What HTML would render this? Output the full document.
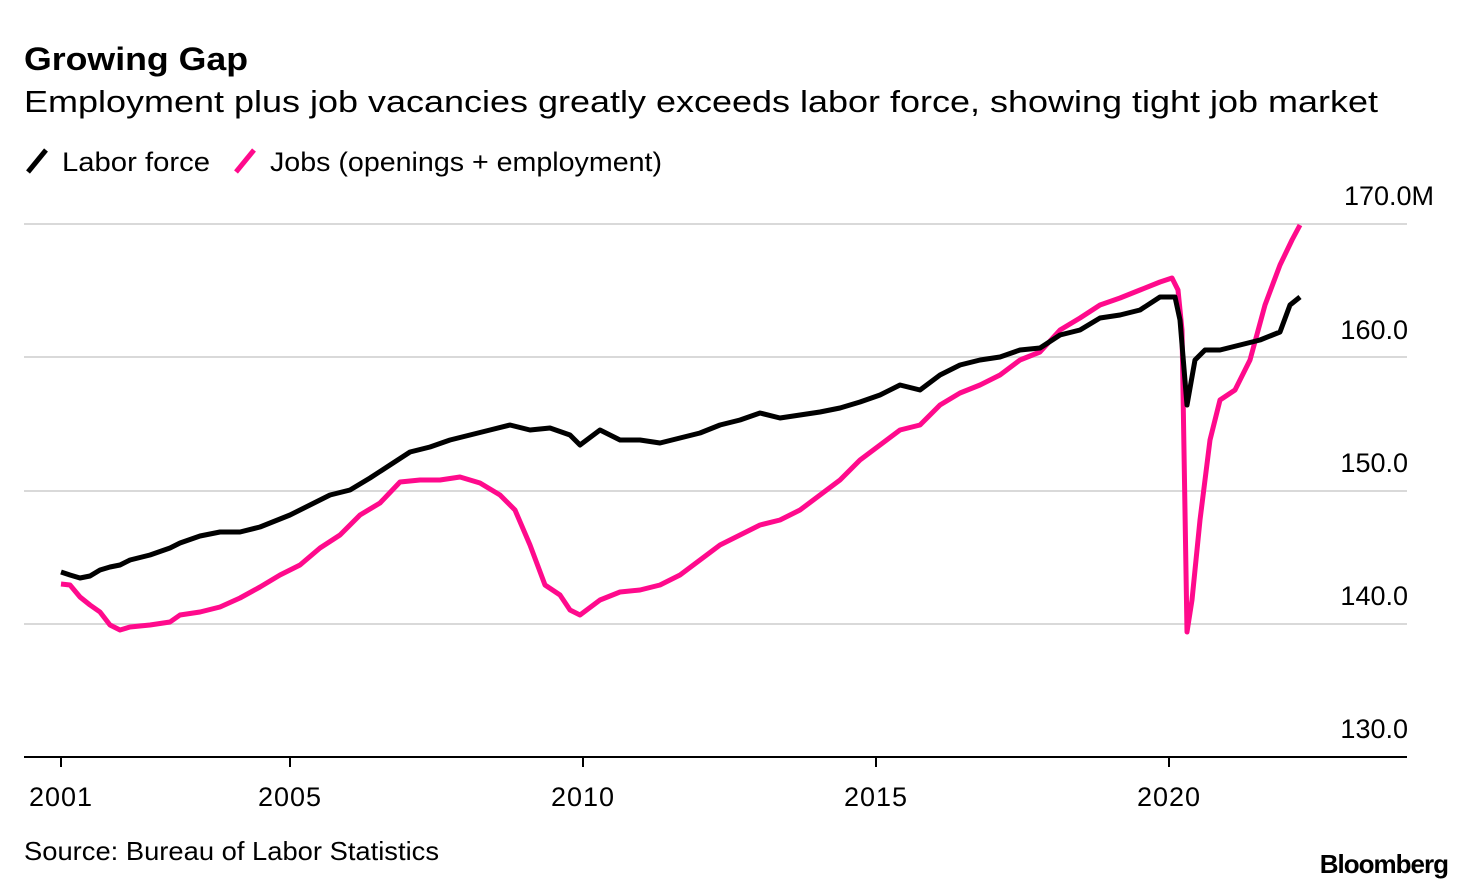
<!DOCTYPE html>
<html><head><meta charset="utf-8"><style>
body{margin:0;background:#fff;}
svg{display:block;font-family:"Liberation Sans",sans-serif;}
</style></head><body>
<svg width="1470" height="885" viewBox="0 0 1470 885">
<text x="24" y="70" font-size="32" font-weight="bold" fill="#000" textLength="224" lengthAdjust="spacingAndGlyphs">Growing Gap</text>
<text x="24" y="112" font-size="31" fill="#000" textLength="1354" lengthAdjust="spacingAndGlyphs">Employment plus job vacancies greatly exceeds labor force, showing tight job market</text>
<line x1="28" y1="172" x2="46" y2="150" stroke="#000" stroke-width="5"/>
<text x="62" y="171" font-size="27" fill="#000" textLength="148" lengthAdjust="spacingAndGlyphs">Labor force</text>
<line x1="236" y1="172" x2="254" y2="150" stroke="#ff0a8c" stroke-width="5"/>
<text x="270" y="171" font-size="27" fill="#000" textLength="392" lengthAdjust="spacingAndGlyphs">Jobs (openings + employment)</text>
<g stroke="#d9d9d9" stroke-width="2">
<line x1="24" y1="224" x2="1407" y2="224"/>
<line x1="24" y1="357" x2="1407" y2="357"/>
<line x1="24" y1="491" x2="1407" y2="491"/>
<line x1="24" y1="624" x2="1407" y2="624"/>
</g>
<line x1="24" y1="757" x2="1407" y2="757" stroke="#000" stroke-width="2"/>
<g font-size="27" fill="#000" text-anchor="end">
<text x="1434" y="205">170.0M</text>
<text x="1408" y="339">160.0</text>
<text x="1408" y="472">150.0</text>
<text x="1408" y="605">140.0</text>
<text x="1408" y="738">130.0</text>
</g>
<g stroke="#000" stroke-width="2">
<line x1="61" y1="757" x2="61" y2="767"/><line x1="290" y1="757" x2="290" y2="767"/>
<line x1="583" y1="757" x2="583" y2="767"/><line x1="876" y1="757" x2="876" y2="767"/>
<line x1="1169" y1="757" x2="1169" y2="767"/>
</g>
<g font-size="27" fill="#000" text-anchor="middle" letter-spacing="1">
<text x="61" y="806">2001</text><text x="290" y="806">2005</text>
<text x="583" y="806">2010</text><text x="876" y="806">2015</text>
<text x="1169" y="806">2020</text>
</g>
<polyline fill="none" stroke="#ff0a8c" stroke-width="5" stroke-linejoin="round" points="61,584 70,585 80,597 90,605 100,612 110,625 120,630 130,627 150,625 170,622 180,615 200,612 220,607 240,598 260,587 280,575 300,565 320,548 340,535 360,515 380,503 400,482 420,480 440,480 460,477 480,483 500,495 515,510 530,545 545,585 560,595 570,610 580,615 600,600 620,592 640,590 660,585 680,575 700,560 720,545 740,535 760,525 780,520 800,510 820,495 840,480 860,460 880,445 900,430 920,425 940,405 960,393 980,385 1000,375 1020,360 1040,352 1060,330 1080,318 1100,305 1120,298 1140,290 1160,282 1172,278 1178,290 1182,330 1187,632 1192,600 1200,520 1210,440 1220,400 1235,390 1250,360 1265,305 1280,265 1292,240 1300,225"/>
<polyline fill="none" stroke="#000" stroke-width="5" stroke-linejoin="round" points="61,572 70,575 80,578 90,576 100,570 110,567 120,565 130,560 150,555 170,548 180,543 200,536 220,532 240,532 260,527 290,515 310,505 330,495 350,490 370,478 390,465 410,452 430,447 450,440 470,435 490,430 510,425 530,430 550,428 570,435 580,445 600,430 620,440 640,440 660,443 680,438 700,433 720,425 740,420 760,413 780,418 800,415 820,412 840,408 860,402 880,395 900,385 920,390 940,375 960,365 980,360 1000,357 1020,350 1040,348 1060,335 1080,330 1100,318 1120,315 1140,310 1160,297 1175,297 1180,320 1187,405 1195,360 1205,350 1220,350 1240,345 1260,340 1280,332 1290,305 1300,297"/>
<text x="24" y="860" font-size="26" fill="#000" textLength="415" lengthAdjust="spacingAndGlyphs">Source: Bureau of Labor Statistics</text>
<text x="1448" y="873" font-size="26" font-weight="bold" fill="#000" text-anchor="end" letter-spacing="-1">Bloomberg</text>
</svg>
</body></html>
